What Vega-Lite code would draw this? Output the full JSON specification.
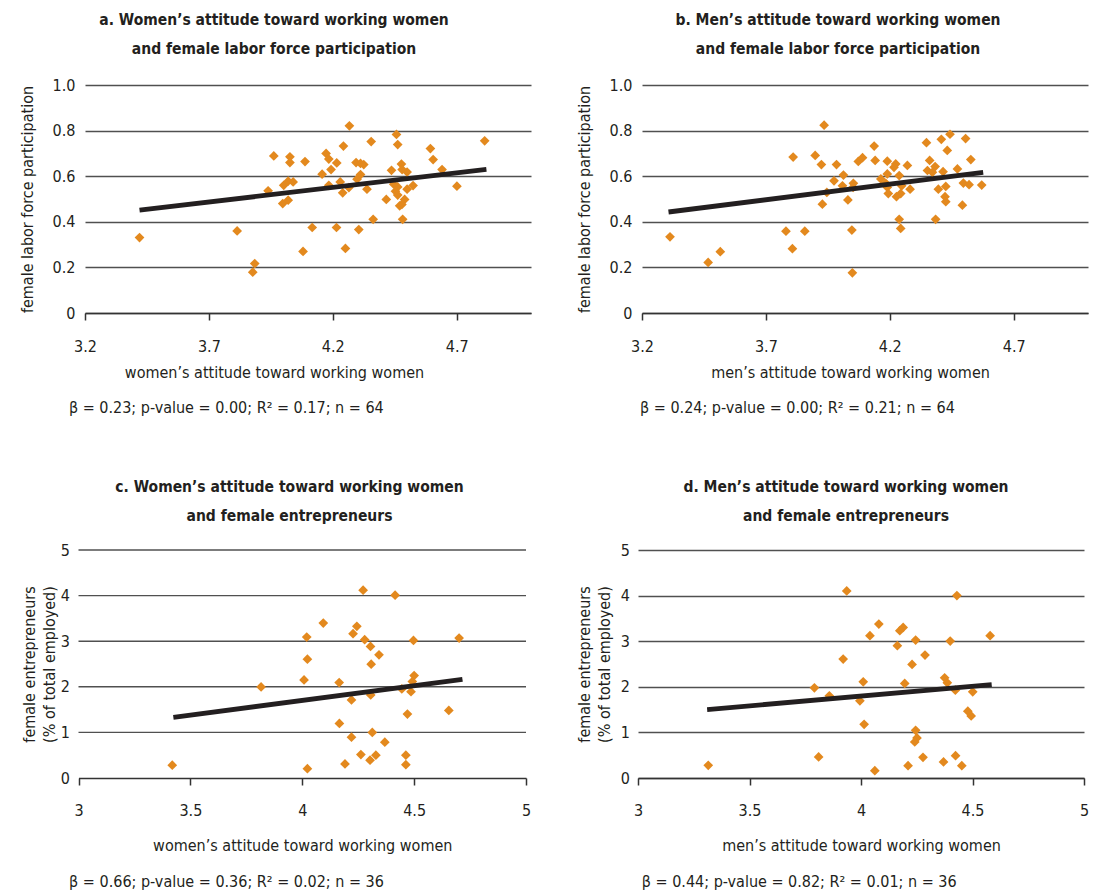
{
  "$schema": "https://vega.github.io/schema/vega-lite/v6.json",
  "padding": {"left": 19, "top": 12, "right": 5, "bottom": 5},
  "background": "white",
  "config": {
    "font": "Liberation Sans Narrow, Arial Narrow, DejaVu Sans Condensed, sans-serif",
    "view": {"stroke": null},
    "axis": {
      "labelFontSize": 16, "titleFontSize": 16, "titleFontWeight": "normal",
      "labelColor": "#231f20", "titleColor": "#231f20",
      "labelFont": "Liberation Sans Narrow, Arial Narrow, DejaVu Sans Condensed, sans-serif",
      "titleFont": "Liberation Sans Narrow, Arial Narrow, DejaVu Sans Condensed, sans-serif"
    },
    "axisX": {"grid": false, "labelFlush": false, "domainColor": "#333333", "domainWidth": 1.5, "tickColor": "#333333", "tickWidth": 1.5, "tickSize": 7, "labelPadding": 18, "titlePadding": 10},
    "axisY": {"grid": true, "gridColor": "#505050", "gridWidth": 1.4, "domain": false, "ticks": false, "labelPadding": 10, "titlePadding": 17},
    "title": {"fontSize": 15.5, "fontWeight": "bold", "color": "#231f20", "lineHeight": 29, "offset": 20, "anchor": "middle",
      "font": "Liberation Sans Narrow, Arial Narrow, DejaVu Sans Condensed, sans-serif"},
    "text": {"font": "Liberation Sans Narrow, Arial Narrow, DejaVu Sans Condensed, sans-serif", "fontSize": 16, "color": "#231f20"}
  },
  "datasets": {
    "pa": [
      {"attitude":3.42,"lfp":0.331},{"attitude":3.814,"lfp":0.36},{"attitude":3.885,"lfp":0.217},{"attitude":3.877,"lfp":0.179},
      {"attitude":3.962,"lfp":0.689},{"attitude":4.027,"lfp":0.685},{"attitude":4.027,"lfp":0.66},{"attitude":4.088,"lfp":0.664},
      {"attitude":3.939,"lfp":0.536},{"attitude":4.002,"lfp":0.56},{"attitude":4.02,"lfp":0.578},{"attitude":4.04,"lfp":0.575},
      {"attitude":3.998,"lfp":0.48},{"attitude":4.02,"lfp":0.495},{"attitude":4.08,"lfp":0.27},{"attitude":4.267,"lfp":0.821},
      {"attitude":4.457,"lfp":0.783},{"attitude":4.462,"lfp":0.739},{"attitude":4.355,"lfp":0.752},{"attitude":4.243,"lfp":0.732},
      {"attitude":4.813,"lfp":0.755},{"attitude":4.594,"lfp":0.721},{"attitude":4.605,"lfp":0.673},{"attitude":4.173,"lfp":0.70},
      {"attitude":4.184,"lfp":0.675},{"attitude":4.216,"lfp":0.658},{"attitude":4.193,"lfp":0.629},{"attitude":4.157,"lfp":0.609},
      {"attitude":4.294,"lfp":0.66},{"attitude":4.312,"lfp":0.656},{"attitude":4.325,"lfp":0.651},{"attitude":4.312,"lfp":0.607},
      {"attitude":4.298,"lfp":0.587},{"attitude":4.23,"lfp":0.575},{"attitude":4.184,"lfp":0.56},{"attitude":4.265,"lfp":0.55},
      {"attitude":4.24,"lfp":0.527},{"attitude":4.338,"lfp":0.543},{"attitude":4.437,"lfp":0.626},{"attitude":4.477,"lfp":0.653},
      {"attitude":4.48,"lfp":0.629},{"attitude":4.5,"lfp":0.618},{"attitude":4.641,"lfp":0.629},{"attitude":4.446,"lfp":0.565},
      {"attitude":4.462,"lfp":0.553},{"attitude":4.453,"lfp":0.534},{"attitude":4.462,"lfp":0.517},{"attitude":4.5,"lfp":0.543},
      {"attitude":4.524,"lfp":0.559},{"attitude":4.701,"lfp":0.556},{"attitude":4.416,"lfp":0.498},{"attitude":4.49,"lfp":0.498},
      {"attitude":4.479,"lfp":0.476},{"attitude":4.47,"lfp":0.47},{"attitude":4.363,"lfp":0.411},{"attitude":4.482,"lfp":0.411},
      {"attitude":4.117,"lfp":0.375},{"attitude":4.215,"lfp":0.375},{"attitude":4.305,"lfp":0.366},{"attitude":4.251,"lfp":0.283}
    ],
    "pb": [
      {"attitude":3.313,"lfp":0.334},{"attitude":3.467,"lfp":0.222},{"attitude":3.516,"lfp":0.269},{"attitude":3.781,"lfp":0.359},
      {"attitude":3.857,"lfp":0.359},{"attitude":3.807,"lfp":0.282},{"attitude":3.935,"lfp":0.824},{"attitude":3.81,"lfp":0.684},
      {"attitude":3.899,"lfp":0.691},{"attitude":3.924,"lfp":0.651},{"attitude":3.985,"lfp":0.651},{"attitude":4.013,"lfp":0.605},
      {"attitude":3.975,"lfp":0.58},{"attitude":4.009,"lfp":0.558},{"attitude":4.053,"lfp":0.569},{"attitude":4.052,"lfp":0.551},
      {"attitude":3.946,"lfp":0.529},{"attitude":3.928,"lfp":0.477},{"attitude":4.031,"lfp":0.496},{"attitude":4.047,"lfp":0.364},
      {"attitude":4.049,"lfp":0.176},{"attitude":4.073,"lfp":0.665},{"attitude":4.09,"lfp":0.681},{"attitude":4.137,"lfp":0.732},
      {"attitude":4.141,"lfp":0.669},{"attitude":4.19,"lfp":0.666},{"attitude":4.224,"lfp":0.654},{"attitude":4.217,"lfp":0.639},
      {"attitude":4.271,"lfp":0.647},{"attitude":4.19,"lfp":0.61},{"attitude":4.238,"lfp":0.603},{"attitude":4.164,"lfp":0.588},
      {"attitude":4.184,"lfp":0.569},{"attitude":4.248,"lfp":0.558},{"attitude":4.19,"lfp":0.551},{"attitude":4.282,"lfp":0.543},
      {"attitude":4.194,"lfp":0.524},{"attitude":4.244,"lfp":0.524},{"attitude":4.227,"lfp":0.51},{"attitude":4.238,"lfp":0.411},
      {"attitude":4.244,"lfp":0.371},{"attitude":4.348,"lfp":0.747},{"attitude":4.408,"lfp":0.762},{"attitude":4.443,"lfp":0.784},
      {"attitude":4.506,"lfp":0.765},{"attitude":4.432,"lfp":0.713},{"attitude":4.527,"lfp":0.673},{"attitude":4.361,"lfp":0.669},
      {"attitude":4.383,"lfp":0.642},{"attitude":4.352,"lfp":0.625},{"attitude":4.372,"lfp":0.617},{"attitude":4.415,"lfp":0.62},
      {"attitude":4.473,"lfp":0.632},{"attitude":4.396,"lfp":0.543},{"attitude":4.426,"lfp":0.555},{"attitude":4.497,"lfp":0.57},
      {"attitude":4.52,"lfp":0.563},{"attitude":4.571,"lfp":0.561},{"attitude":4.423,"lfp":0.51},{"attitude":4.426,"lfp":0.488},
      {"attitude":4.493,"lfp":0.473},{"attitude":4.385,"lfp":0.411}
    ],
    "pc": [
      {"attitude":3.419,"entre":0.28},{"attitude":3.816,"entre":1.998},{"attitude":4.02,"entre":3.09},{"attitude":4.023,"entre":2.606},
      {"attitude":4.008,"entre":2.15},{"attitude":4.023,"entre":0.205},{"attitude":4.272,"entre":4.119},{"attitude":4.415,"entre":4.009},
      {"attitude":4.094,"entre":3.399},{"attitude":4.244,"entre":3.326},{"attitude":4.227,"entre":3.165},{"attitude":4.279,"entre":3.033},
      {"attitude":4.305,"entre":2.885},{"attitude":4.343,"entre":2.702},{"attitude":4.308,"entre":2.496},{"attitude":4.497,"entre":3.018},
      {"attitude":4.701,"entre":3.068},{"attitude":4.165,"entre":2.093},{"attitude":4.5,"entre":2.247},{"attitude":4.492,"entre":2.115},
      {"attitude":4.445,"entre":1.953},{"attitude":4.486,"entre":1.894},{"attitude":4.22,"entre":1.711},{"attitude":4.306,"entre":1.821},
      {"attitude":4.47,"entre":1.403},{"attitude":4.655,"entre":1.483},{"attitude":4.166,"entre":1.196},{"attitude":4.22,"entre":0.896},
      {"attitude":4.313,"entre":0.998},{"attitude":4.369,"entre":0.786},{"attitude":4.262,"entre":0.514},{"attitude":4.329,"entre":0.5},
      {"attitude":4.303,"entre":0.39},{"attitude":4.463,"entre":0.5},{"attitude":4.463,"entre":0.293},{"attitude":4.191,"entre":0.308}
    ],
    "pd": [
      {"attitude":3.315,"entre":0.277},{"attitude":3.81,"entre":0.461},{"attitude":3.791,"entre":1.978},{"attitude":3.858,"entre":1.802},
      {"attitude":3.92,"entre":2.607},{"attitude":3.936,"entre":4.101},{"attitude":4.43,"entre":4.0},{"attitude":4.08,"entre":3.376},
      {"attitude":4.04,"entre":3.121},{"attitude":4.189,"entre":3.303},{"attitude":4.174,"entre":3.23},{"attitude":4.163,"entre":2.901},
      {"attitude":4.245,"entre":3.024},{"attitude":4.4,"entre":3.002},{"attitude":4.579,"entre":3.121},{"attitude":4.287,"entre":2.695},
      {"attitude":4.229,"entre":2.49},{"attitude":4.01,"entre":2.11},{"attitude":4.196,"entre":2.073},{"attitude":4.375,"entre":2.198},
      {"attitude":4.387,"entre":2.088},{"attitude":4.423,"entre":1.926},{"attitude":4.501,"entre":1.89},{"attitude":3.995,"entre":1.692},
      {"attitude":4.479,"entre":1.464},{"attitude":4.494,"entre":1.362},{"attitude":4.014,"entre":1.178},{"attitude":4.245,"entre":1.046},
      {"attitude":4.251,"entre":0.879},{"attitude":4.241,"entre":0.791},{"attitude":4.278,"entre":0.453},{"attitude":4.424,"entre":0.49},
      {"attitude":4.37,"entre":0.352},{"attitude":4.452,"entre":0.27},{"attitude":4.211,"entre":0.27},{"attitude":4.062,"entre":0.16}
    ],
    "la": [{"attitude":3.42,"lfp":0.451},{"attitude":4.82,"lfp":0.63}],
    "lb": [{"attitude":3.307,"lfp":0.443},{"attitude":4.577,"lfp":0.617}],
    "lc": [{"attitude":3.424,"entre":1.33},{"attitude":4.716,"entre":2.165}],
    "ld": [{"attitude":3.31,"entre":1.50},{"attitude":4.586,"entre":2.05}],
    "gridc": [{"g":1},{"g":2},{"g":3},{"g":4},{"g":5}],
    "sa": [{"stat":"β = 0.23; p-value = 0.00; R² = 0.17; n = 64"}],
    "sb": [{"stat":"β = 0.24; p-value = 0.00; R² = 0.21; n = 64"}],
    "sc": [{"stat":"β = 0.66; p-value = 0.36; R² = 0.02; n = 36"}],
    "sd": [{"stat":"β = 0.44; p-value = 0.82; R² = 0.01; n = 36"}]
  },
  "spacing": 62,
  "vconcat": [
    {
      "spacing": 45,
      "hconcat": [
        {
          "title": {"text": ["a. Women’s attitude toward working women", "and female labor force participation"], "dx": -34},
          "width": 446, "height": 228,
          "layer": [
            {
              "data": {"name": "pa"},
              "mark": {"type": "point", "shape": "diamond", "filled": true, "size": 95, "color": "#E3891E", "opacity": 1},
              "encoding": {
                "x": {"field": "attitude", "type": "quantitative", "scale": {"domain": [3.2, 5.0], "nice": false, "zero": false},
                  "axis": {"values": [3.2, 3.7, 4.2, 4.7], "format": ".1f", "title": "women’s attitude toward working women", "titleX": 189}},
                "y": {"field": "lfp", "type": "quantitative", "scale": {"domain": [0, 1], "nice": false},
                  "axis": {"values": [0, 0.2, 0.4, 0.6, 0.8, 1.0], "labelExpr": "datum.value == 0 ? '0' : format(datum.value, '.1f')", "title": "female labor force participation"}}
              }
            },
            {
              "data": {"name": "la"},
              "mark": {"type": "line", "color": "#231f20", "strokeWidth": 4.8},
              "encoding": {"x": {"field": "attitude", "type": "quantitative"}, "y": {"field": "lfp", "type": "quantitative"}}
            },
            {
              "data": {"name": "sa"},
              "mark": {"type": "text", "align": "left", "baseline": "middle"},
              "encoding": {"x": {"datum": 3.135}, "y": {"datum": -0.418}, "text": {"field": "stat"}}
            }
          ]
        },
        {
          "title": {"text": ["b. Men’s attitude toward working women", "and female labor force participation"], "dx": -27},
          "width": 446, "height": 228,
          "layer": [
            {
              "data": {"name": "pb"},
              "mark": {"type": "point", "shape": "diamond", "filled": true, "size": 95, "color": "#E3891E", "opacity": 1},
              "encoding": {
                "x": {"field": "attitude", "type": "quantitative", "scale": {"domain": [3.2, 5.0], "nice": false, "zero": false},
                  "axis": {"values": [3.2, 3.7, 4.2, 4.7], "format": ".1f", "title": "men’s attitude toward working women", "titleX": 208}},
                "y": {"field": "lfp", "type": "quantitative", "scale": {"domain": [0, 1], "nice": false},
                  "axis": {"values": [0, 0.2, 0.4, 0.6, 0.8, 1.0], "labelExpr": "datum.value == 0 ? '0' : format(datum.value, '.1f')", "title": "female labor force participation"}}
              }
            },
            {
              "data": {"name": "lb"},
              "mark": {"type": "line", "color": "#231f20", "strokeWidth": 4.8},
              "encoding": {"x": {"field": "attitude", "type": "quantitative"}, "y": {"field": "lfp", "type": "quantitative"}}
            },
            {
              "data": {"name": "sb"},
              "mark": {"type": "text", "align": "left", "baseline": "middle"},
              "encoding": {"x": {"datum": 3.192}, "y": {"datum": -0.418}, "text": {"field": "stat"}}
            }
          ]
        }
      ]
    },
    {
      "spacing": 43,
      "hconcat": [
        {
          "title": {"text": ["c. Women’s attitude toward working women", "and female entrepreneurs"], "offset": 18, "dx": -16},
          "width": 441, "height": 228,
          "layer": [
            {
              "data": {"name": "gridc"},
              "mark": {"type": "rule", "color": "#505050", "strokeWidth": 1.4},
              "encoding": {"y": {"field": "g", "type": "quantitative"}, "x": {"datum": 3}, "x2": {"datum": 5}}
            },
            {
              "data": {"name": "pc"},
              "mark": {"type": "point", "shape": "diamond", "filled": true, "size": 95, "color": "#E3891E", "opacity": 1},
              "encoding": {
                "x": {"field": "attitude", "type": "quantitative", "scale": {"domain": [3, 5], "range": [-6.5, 441], "nice": false, "zero": false},
                  "axis": {"values": [3, 3.5, 4, 4.5, 5], "format": "~g", "title": "women’s attitude toward working women", "labelPadding": 17, "titlePadding": 19}},
                "y": {"field": "entre", "type": "quantitative", "scale": {"domain": [0, 5], "nice": false},
                  "axis": {"values": [0, 1, 2, 3, 4, 5], "grid": false, "title": ["female entrepreneurs", "(% of total employed)"], "titlePadding": 3, "labelPadding": 15.5, "titleLineHeight": 20}}
              }
            },
            {
              "data": {"name": "lc"},
              "mark": {"type": "line", "color": "#231f20", "strokeWidth": 4.8},
              "encoding": {"x": {"field": "attitude", "type": "quantitative"}, "y": {"field": "entre", "type": "quantitative"}}
            },
            {
              "data": {"name": "sc"},
              "mark": {"type": "text", "align": "left", "baseline": "middle"},
              "encoding": {"x": {"datum": 2.958}, "y": {"datum": -2.29}, "text": {"field": "stat"}}
            }
          ]
        },
        {
          "title": {"text": ["d. Men’s attitude toward working women", "and female entrepreneurs"], "offset": 18, "dx": -15},
          "width": 446, "height": 228,
          "layer": [
            {
              "data": {"name": "pd"},
              "mark": {"type": "point", "shape": "diamond", "filled": true, "size": 95, "color": "#E3891E", "opacity": 1},
              "encoding": {
                "x": {"field": "attitude", "type": "quantitative", "scale": {"domain": [3, 5], "nice": false, "zero": false},
                  "axis": {"values": [3, 3.5, 4, 4.5, 5], "format": "~g", "title": "men’s attitude toward working women", "labelPadding": 17, "titlePadding": 19}},
                "y": {"field": "entre", "type": "quantitative", "scale": {"domain": [0, 5], "nice": false},
                  "axis": {"values": [0, 1, 2, 3, 4, 5], "title": ["female entrepreneurs", "(% of total employed)"], "titlePadding": 8, "labelPadding": 8.5, "titleLineHeight": 20}}
              }
            },
            {
              "data": {"name": "ld"},
              "mark": {"type": "line", "color": "#231f20", "strokeWidth": 4.8},
              "encoding": {"x": {"field": "attitude", "type": "quantitative"}, "y": {"field": "entre", "type": "quantitative"}}
            },
            {
              "data": {"name": "sd"},
              "mark": {"type": "text", "align": "left", "baseline": "middle"},
              "encoding": {"x": {"datum": 3.017}, "y": {"datum": -2.29}, "text": {"field": "stat"}}
            }
          ]
        }
      ]
    }
  ]
}
